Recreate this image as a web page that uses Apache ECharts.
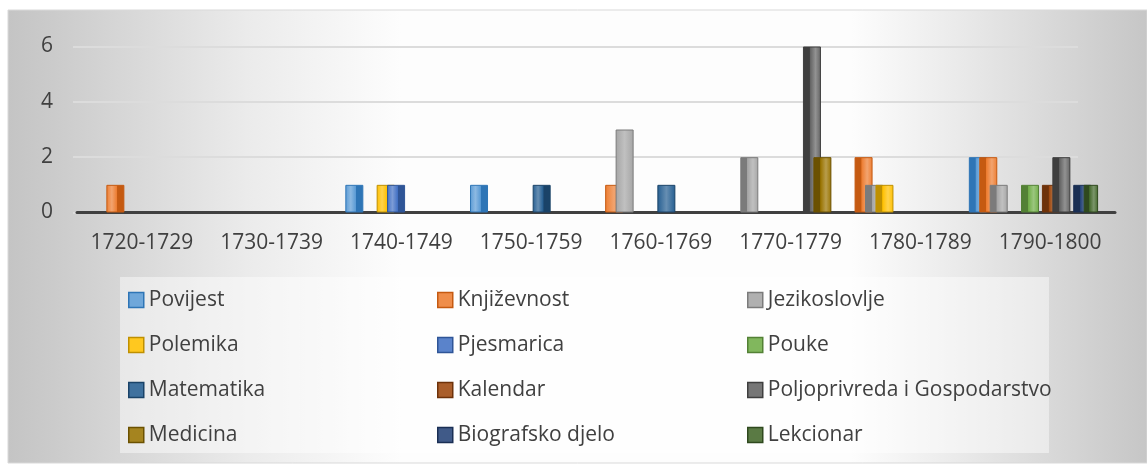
<!DOCTYPE html>
<html><head><meta charset="utf-8">
<script src="https://cdn.jsdelivr.net/npm/echarts@6/dist/echarts.min.js"></script>
<style>html,body{margin:0;padding:0;background:#fff}#c{width:1147px;height:465px}</style>
</head><body><div id="c"></div>
<script>
// ---- data ----
const categories = ['1720-1729','1730-1739','1740-1749','1750-1759','1760-1769','1770-1779','1780-1789','1790-1800'];
const seriesNames = ['Povijest','Književnost','Jezikoslovlje','Polemika','Pjesmarica','Pouke','Matematika','Kalendar','Poljoprivreda i Gospodarstvo','Medicina','Biografsko djelo','Lekcionar'];
const povijest      = [null,null,1,1,null,null,null,2];
const knjizevnost   = [1,null,null,null,1,null,2,2];
const jezikoslovlje = [null,null,null,null,3,2,1,1];
const polemika      = [null,null,1,null,null,null,1,null];
const pjesmarica    = [null,null,1,null,null,null,null,null];
const pouke         = [null,null,null,null,null,null,null,1];
const matematika    = [null,null,null,1,1,null,null,null];
const kalendar      = [null,null,null,null,null,null,null,1];
const poljoprivreda = [null,null,null,null,null,6,null,2];
const medicina      = [null,null,null,null,null,2,null,null];
const biografsko    = [null,null,null,null,null,null,null,1];
const lekcionar     = [null,null,null,null,null,null,null,1];
const yTicks = [0,2,4,6];
const legendColumns = [
  ['Povijest','Polemika','Matematika','Medicina'],
  ['Književnost','Pjesmarica','Kalendar','Biografsko djelo'],
  ['Jezikoslovlje','Pouke','Poljoprivreda i Gospodarstvo','Lekcionar']
];
const seriesData = [povijest,knjizevnost,jezikoslovlje,polemika,pjesmarica,pouke,matematika,kalendar,poljoprivreda,medicina,biografsko,lekcionar];

// ---- styles ----
const baseColors = ['#5B9BD5','#ED7D31','#A5A5A5','#FFC000','#4472C4','#70AD47','#255E91','#9E480E','#636363','#997300','#264478','#43682B'];
const darkColors = ['#2E75B6','#C55A11','#7B7B7B','#BF9000','#2F5597','#538135','#1A4368','#6E320A','#3F3F3F','#6B5100','#1A2F54','#2F491E'];
function mix(hex, t){
  const n=parseInt(hex.slice(1),16);
  const r=(n>>16)&255,g=(n>>8)&255,b=n&255;
  const f=c=>Math.round(c+(255-c)*t);
  return 'rgb('+f(r)+','+f(g)+','+f(b)+')';
}
function grad(i,k){
  const b=baseColors[i], d=darkColors[i], l=mix(baseColors[i],0.3);
  let stops;
  if(k<4) stops=[{offset:0,color:b},{offset:0.3,color:l},{offset:0.58,color:b},{offset:0.62,color:d},{offset:1,color:d}];
  else if(k===4) stops=[{offset:0,color:b},{offset:0.5,color:l},{offset:1,color:b}];
  else stops=[{offset:0,color:d},{offset:0.36,color:d},{offset:0.4,color:b},{offset:0.7,color:l},{offset:1,color:b}];
  return new echarts.graphic.LinearGradient(0,0,1,0,stops);
}
const FONT='Open Sans';
const TXT='#404040';
const G_TOP=46.5, G_BOTTOM=465-212.5;

const series = seriesNames.map((name,i)=>({
  name, type:'bar', xAxisIndex:0, yAxisIndex:0,
  barWidth:18, barGap:'-42%',
  data: seriesData[i].map((v,k)=>({value:v, itemStyle:{color:grad(i,k), borderColor:darkColors[i], borderWidth:1}})),
  emphasis:{disabled:true}
}));

const legends = legendColumns.map((col,c)=>({
  orient:'vertical', left:[128,437,747][c], top:289.5, padding:0,
  itemWidth:15, itemHeight:15, itemGap:24, icon:'rect', selectedMode:false,
  textStyle:{fontFamily:FONT, fontSize:21, lineHeight:21, color:TXT},
  data: col.map(n=>{const i=seriesNames.indexOf(n);return {name:n, itemStyle:{color:mix(baseColors[i],0.12), borderColor:darkColors[i], borderWidth:1.5}};})
}));

const chart = echarts.init(document.getElementById('c'), null, {renderer:'canvas'});
chart.setOption({
  animation:false,
  backgroundColor:'#ffffff',
  graphic:[
    {type:'rect', z:-100, shape:{x:8,y:10,width:1139,height:453},
     style:{fill:new echarts.graphic.LinearGradient(0,0,1,0,[
       {offset:0,color:'#c4c4c4'},{offset:0.04,color:'#cbcbcb'},{offset:0.21,color:'#ebebeb'},
       {offset:0.345,color:'#fdfdfd'},{offset:0.74,color:'#fdfdfd'},{offset:0.83,color:'#ebebeb'},{offset:1,color:'#c6c6c6'}]),
       stroke:'#d9d9d9', lineWidth:1}},
    {type:'rect', z:-50, shape:{x:120,y:277,width:929,height:176}, style:{fill:'rgba(255,255,255,0.45)'}}
  ],
  grid:[
    {left:100, right:49.4, top:G_TOP, bottom:G_BOTTOM},
    {left:77, right:32, top:G_TOP, bottom:G_BOTTOM},
    {left:73, right:69, top:G_TOP, bottom:G_BOTTOM}
  ],
  xAxis:[
    {type:'category', gridIndex:0, data:categories, axisLine:{show:false}, axisTick:{show:false}, axisLabel:{show:false}},
    {type:'category', gridIndex:1, data:categories, axisLine:{show:true, lineStyle:{color:'#404040', width:3}}, axisTick:{show:false},
     axisLabel:{fontFamily:FONT, fontSize:21, color:TXT, margin:20, interval:0, hideOverlap:false}},
    {type:'category', gridIndex:2, data:categories, axisLine:{show:false}, axisTick:{show:false}, axisLabel:{show:false}}
  ],
  yAxis:[
    {type:'value', gridIndex:0, min:yTicks[0], max:yTicks[yTicks.length-1], interval:2, axisLabel:{show:false}, splitLine:{show:false}, axisLine:{show:false}},
    {type:'value', gridIndex:1, min:yTicks[0], max:yTicks[yTicks.length-1], interval:2, axisLabel:{show:false}, splitLine:{show:false}, axisLine:{show:false}},
    {type:'value', gridIndex:2, min:yTicks[0], max:yTicks[yTicks.length-1], interval:2,
     axisLabel:{fontFamily:FONT, fontSize:21, color:TXT, margin:20}, axisLine:{show:false}, axisTick:{show:false},
     splitLine:{show:true, lineStyle:{color:'#dcdcdc', width:2}}}
  ],
  legend:legends,
  series
});
</script></body></html>
